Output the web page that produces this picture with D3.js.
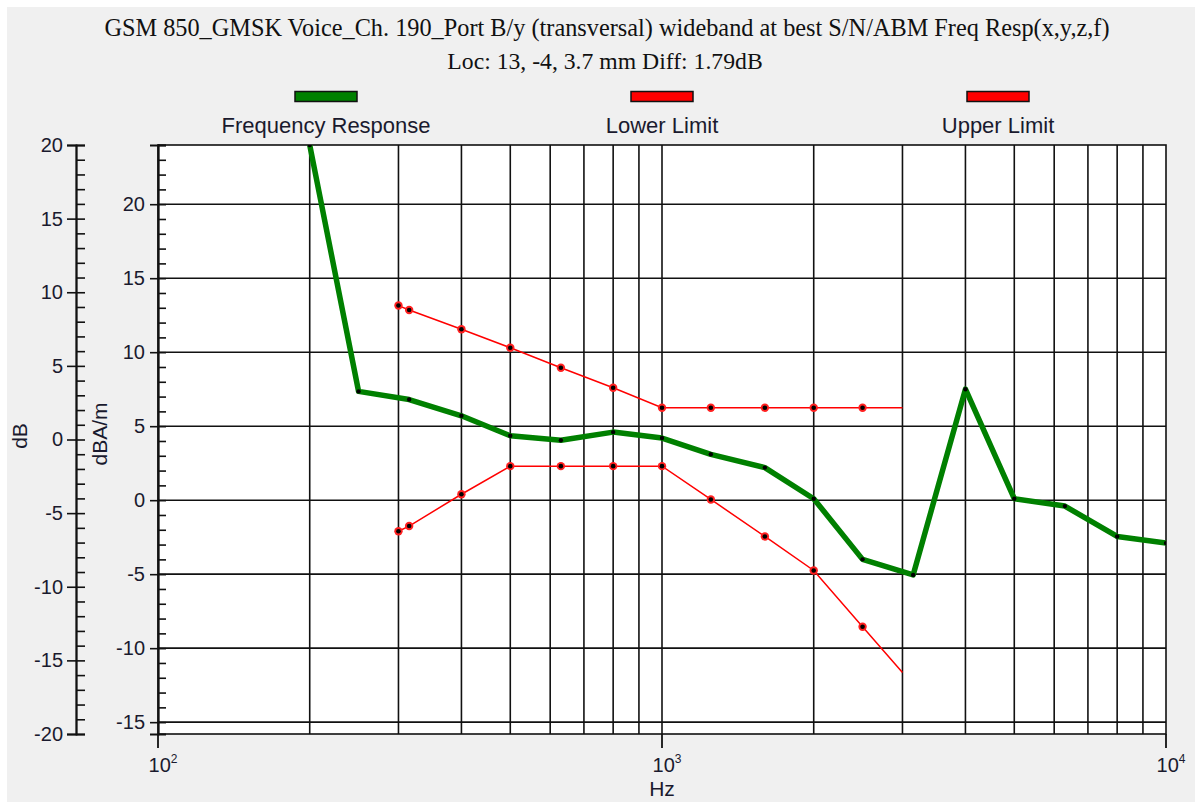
<!DOCTYPE html>
<html>
<head>
<meta charset="utf-8">
<script src="https://cdn.jsdelivr.net/npm/d3@7"></script>
<style>
  html, body { margin: 0; padding: 0; background: #ffffff; }
  svg { display: block; }
  text { font-family: "Liberation Sans", Arial, sans-serif; fill: #1a1a2e; }
  .title { font-family: "Liberation Serif", "Times New Roman", serif; fill: #111; }
</style>
</head>
<body>
<div id="chart"></div>
<script>
// --------------------------------------------------
// data

const freqs = [200, 250, 315, 400, 500, 630, 800, 1000, 1250, 1600, 2000, 2500, 3150, 4000, 5000, 6300, 8000, 10000];
const response = [24, 7.35, 6.8, 5.7, 4.35, 4.05, 4.6, 4.2, 3.1, 2.2, 0.1, -4.0, -5.05, 7.5, 0.1, -0.4, -2.45, -2.9];

const limitFreqs = [300, 315, 400, 500, 630, 800, 1000, 1250, 1600, 2000, 2500, 3000];
const upperLimit = [13.15, 12.85, 11.55, 10.3, 8.95, 7.6, 6.25, 6.25, 6.25, 6.25, 6.25, 6.25];
const lowerLimit = [-2.1, -1.75, 0.4, 2.3, 2.3, 2.3, 2.3, 0.05, -2.45, -4.75, -8.55, -11.65];

const legendNames = ['Frequency Response', 'Lower Limit', 'Upper Limit'];
const legendColors = ['#008000', '#ff0000', '#ff0000'];

const dBTicks = [-20, -15, -10, -5, 0, 5, 10, 15, 20];
const dBAmTicks = [-15, -10, -5, 0, 5, 10, 15, 20];
const decadeTicks = [100, 1000, 10000];
const decadeExp = ['2', '3', '4'];

const titleText = 'GSM 850_GMSK Voice_Ch. 190_Port B/y (transversal) wideband at best S/N/ABM Freq Resp(x,y,z,f)';
const subTitleText = 'Loc: 13, -4, 3.7 mm Diff: 1.79dB';

// --------------------------------------------------

const W = 1195, H = 802;
const plot = { left: 158, right: 1166, top: 145, bottom: 734 };

let svg = d3.select('#chart').append('svg')
  .attr('width', W)
  .attr('height', H);

svg.append('rect')
  .attr('x', 7).attr('y', 7)
  .attr('width', W - 7).attr('height', H - 7)
  .attr('fill', '#f0f0f0');

let x = d3.scaleLog().domain([100, 10000]).range([plot.left, plot.right]);
let y = d3.scaleLinear().domain([-15.8, 24]).range([plot.bottom, plot.top]);
let yDB = d3.scaleLinear().domain([-20, 20]).range([plot.bottom, plot.top]);

// plain hyphen for negatives, like the original
let fmt = d => String(d);

// titles
svg.append('text')
  .attr('class', 'title')
  .attr('x', 607).attr('y', 36)
  .attr('text-anchor', 'middle')
  .style('font-size', '24.3px')
  .text(titleText);

svg.append('text')
  .attr('class', 'title')
  .attr('x', 605).attr('y', 69)
  .attr('text-anchor', 'middle')
  .style('font-size', '23.7px')
  .text(subTitleText);

// legend
let legendX = d3.scalePoint().domain(legendNames).range([plot.left, plot.right]).padding(0.5);

let legend = svg.append('g')
  .selectAll('g')
  .data(legendNames)
  .join('g')
  .attr('transform', d => `translate(${legendX(d)},0)`);

legend.append('rect')
  .attr('x', -31).attr('y', 91.5)
  .attr('width', 62).attr('height', 10)
  .attr('fill', (d, i) => legendColors[i])
  .attr('stroke', '#111')
  .attr('stroke-width', 1.5);

legend.append('text')
  .attr('y', 133)
  .attr('text-anchor', 'middle')
  .style('font-size', '22px')
  .text(d => d);

// plot background
svg.append('rect')
  .attr('x', plot.left).attr('y', plot.top)
  .attr('width', plot.right - plot.left)
  .attr('height', plot.bottom - plot.top)
  .attr('fill', '#ffffff');

// grid
let minorFreqs = [];
[100, 1000].forEach(function (dec)
{
  for (let k = 2; k <= 9; k++) minorFreqs.push(dec * k);
});
minorFreqs.push(1000);

let grid = svg.append('g')
  .attr('stroke', '#111')
  .attr('stroke-width', 1.6);

grid.selectAll('line.v')
  .data(minorFreqs)
  .join('line')
  .attr('class', 'v')
  .attr('x1', d => x(d)).attr('x2', d => x(d))
  .attr('y1', plot.top).attr('y2', plot.bottom);

grid.selectAll('line.h')
  .data(dBAmTicks)
  .join('line')
  .attr('class', 'h')
  .attr('x1', plot.left).attr('x2', plot.right)
  .attr('y1', d => y(d)).attr('y2', d => y(d));

svg.append('rect')
  .attr('x', plot.left).attr('y', plot.top)
  .attr('width', plot.right - plot.left)
  .attr('height', plot.bottom - plot.top)
  .attr('fill', 'none')
  .attr('stroke', '#111')
  .attr('stroke-width', 1.6);

// inner dBA/m axis
let inner = svg.append('g')
  .attr('transform', `translate(${plot.left},0)`);

inner.call(d3.axisLeft(y).tickValues(dBAmTicks).tickSize(8).tickPadding(5).tickFormat(fmt));
inner.append('g').call(d3.axisRight(y).tickValues(d3.range(-15, 25)).tickSize(8).tickFormat(''));

// outer dB axis
let outer = svg.append('g')
  .attr('transform', 'translate(76,0)');

outer.call(d3.axisLeft(yDB).tickValues(dBTicks).tickSize(9).tickPadding(4).tickFormat(fmt));
outer.append('g').call(d3.axisRight(yDB).tickValues(d3.range(-20, 21)).tickSize(9).tickFormat(''));

svg.selectAll('.domain').attr('stroke', '#111').attr('stroke-width', 1.8);
svg.selectAll('.tick line').attr('stroke', '#111').attr('stroke-width', 1.6);
svg.selectAll('.tick text')
  .style('font-size', '20px')
  .style('font-family', '"Liberation Sans", Arial, sans-serif')
  .attr('fill', '#1a1a2e');

// x axis decade ticks
let xAxis = svg.append('g')
  .attr('transform', `translate(0,${plot.bottom})`);

xAxis.selectAll('line')
  .data(decadeTicks)
  .join('line')
  .attr('x1', d => x(d)).attr('x2', d => x(d))
  .attr('y1', 0).attr('y2', 14)
  .attr('stroke', '#111')
  .attr('stroke-width', 1.8);

let xLab = xAxis.selectAll('text')
  .data(decadeTicks)
  .join('text')
  .attr('x', d => x(d) + 5)
  .attr('y', 38)
  .attr('text-anchor', 'middle')
  .style('font-size', '20px');
xLab.append('tspan').text('10');
xLab.append('tspan')
  .attr('dy', -9)
  .style('font-size', '12px')
  .text((d, i) => decadeExp[i]);

svg.append('text')
  .attr('x', x(1000)).attr('y', 796)
  .attr('text-anchor', 'middle')
  .style('font-size', '21px')
  .text('Hz');

// axis titles
svg.append('text')
  .attr('transform', 'translate(27,436) rotate(-90)')
  .attr('text-anchor', 'middle')
  .style('font-size', '21px')
  .text('dB');

svg.append('text')
  .attr('transform', 'translate(107,434) rotate(-90)')
  .attr('text-anchor', 'middle')
  .style('font-size', '21px')
  .text('dBA/m');

// series
svg.append('clipPath')
  .attr('id', 'plot-clip')
  .append('rect')
  .attr('x', plot.left).attr('y', plot.top)
  .attr('width', plot.right - plot.left)
  .attr('height', plot.bottom - plot.top);

let series = svg.append('g').attr('clip-path', 'url(#plot-clip)');

let line = d3.line()
  .x(d => x(d[0]))
  .y(d => y(d[1]));

function limitSeries(values)
{
  let pts = d3.zip(limitFreqs, values);
  series.append('path')
    .attr('d', line(pts))
    .attr('fill', 'none')
    .attr('stroke', '#ff0000')
    .attr('stroke-width', 1.5);
  // the last point (3 kHz) has no marker
  let marked = pts.slice(0, -1);
  series.append('g').selectAll('circle')
    .data(marked)
    .join('circle')
    .attr('cx', d => x(d[0])).attr('cy', d => y(d[1]))
    .attr('r', 4.2)
    .attr('fill', '#ff2020');
  series.append('g').selectAll('circle')
    .data(marked)
    .join('circle')
    .attr('cx', d => x(d[0])).attr('cy', d => y(d[1]))
    .attr('r', 2.3)
    .attr('fill', '#000');
}

limitSeries(upperLimit);
limitSeries(lowerLimit);

let resp = d3.zip(freqs, response);

series.append('path')
  .attr('d', line(resp))
  .attr('fill', 'none')
  .attr('stroke', '#008000')
  .attr('stroke-width', 5.5)
  .attr('stroke-linejoin', 'round');

series.append('g').selectAll('circle')
  .data(resp)
  .join('circle')
  .attr('cx', d => x(d[0])).attr('cy', d => y(d[1]))
  .attr('r', 2.2)
  .attr('fill', '#000');
</script>
</body>
</html>
